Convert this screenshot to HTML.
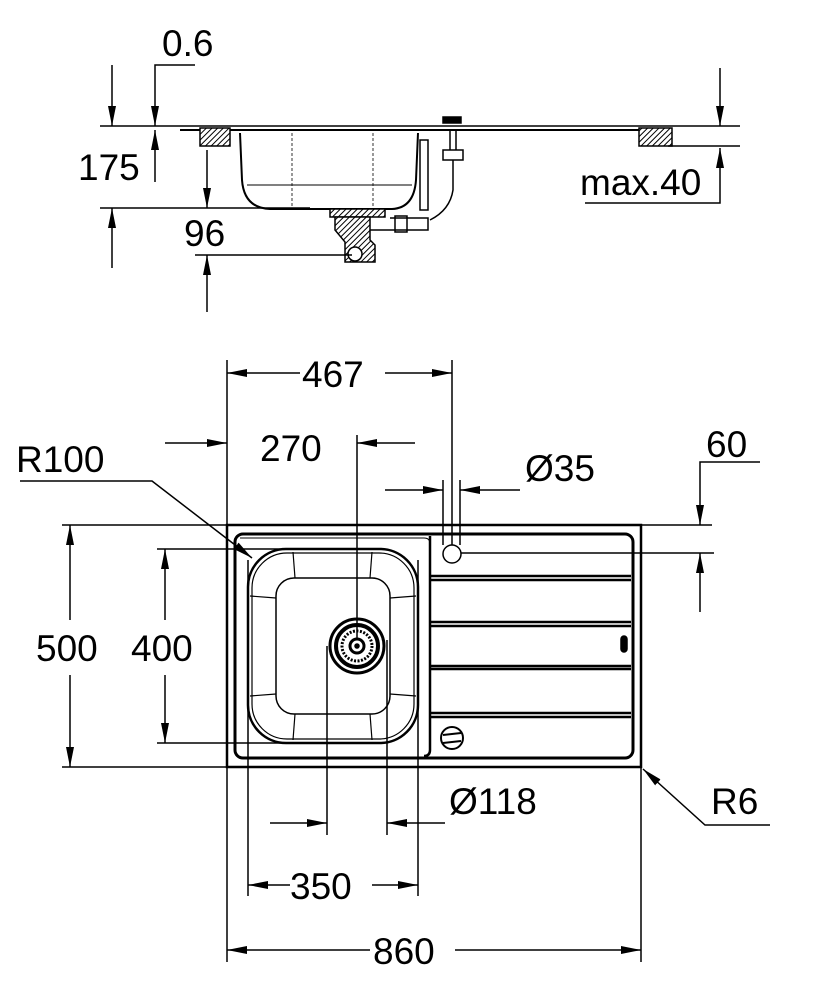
<!DOCTYPE html>
<html><head><meta charset="utf-8"><style>
html,body{margin:0;padding:0;background:#fff}
svg{display:block}
text{font-family:"Liberation Sans",sans-serif;font-size:37px;fill:#000}
</style></head><body>
<svg width="822" height="997" viewBox="0 0 822 997" xmlns="http://www.w3.org/2000/svg">
<defs>
<marker id="a" viewBox="0 0 20 8" refX="20" refY="4" markerWidth="20" markerHeight="8" markerUnits="userSpaceOnUse" orient="auto"><path d="M0,0 L20,4 L0,8 Z" fill="#000"/></marker>
<pattern id="h" width="4" height="4" patternUnits="userSpaceOnUse" patternTransform="rotate(45)"><rect width="4" height="4" fill="#fff"/><line x1="0" y1="0" x2="0" y2="4" stroke="#000" stroke-width="2"/></pattern>
</defs>
<g stroke="#000" stroke-width="1.5" fill="none">
<line x1="100" y1="126" x2="740" y2="126"/>
<line x1="180" y1="130" x2="640" y2="130" stroke-width="2"/>
<rect x="200" y="128" width="30" height="18" fill="url(#h)"/>
<rect x="639" y="128" width="33" height="18" fill="url(#h)"/>
<line x1="668" y1="146" x2="740" y2="146"/>
<line x1="100" y1="208" x2="310" y2="208"/>
<path d="M240,133 L242,180 Q244,208 270,209 L392,209 Q414,208 416,180 L418,133" stroke-width="2"/>
<line x1="247" y1="185" x2="412" y2="185" stroke-width="1"/>
<line x1="292" y1="133" x2="292" y2="209" stroke-width="0.8" stroke-dasharray="3,2"/>
<line x1="373" y1="133" x2="373" y2="209" stroke-width="0.8" stroke-dasharray="3,2"/>
<rect x="330" y="209" width="55" height="8" fill="url(#h)"/>
<path d="M335,217 L335,230 L345,242 L345,262 L375,262 L375,245 L370,240 L370,217 Z" stroke-width="1.5" fill="url(#h)"/>
<circle cx="355" cy="254" r="7" fill="#fff"/>
<path d="M370,230 L428,230 L428,218 L390,218" stroke-width="1.5"/>
<rect x="395" y="216" width="12" height="16"/>
<rect x="443" y="117" width="18" height="6" fill="#000"/>
<line x1="450" y1="130" x2="450" y2="150"/><line x1="456" y1="130" x2="456" y2="150"/>
<rect x="443" y="150" width="20" height="10"/>
<path d="M453,160 L453,190 Q450,210 430,220" />
<rect x="420" y="140" width="8" height="70"/>
<line x1="112" y1="65" x2="112" y2="126" marker-end="url(#a)"/>
<line x1="112" y1="268" x2="112" y2="208" marker-end="url(#a)"/>
<polyline points="195,65 155,65 155,126" marker-end="url(#a)"/>
<line x1="155" y1="182" x2="155" y2="130" marker-end="url(#a)"/>
<line x1="207" y1="150" x2="207" y2="208" marker-end="url(#a)"/>
<line x1="207" y1="312" x2="207" y2="255" marker-end="url(#a)"/>
<line x1="195" y1="255" x2="352" y2="255"/>
<line x1="720" y1="68" x2="720" y2="126" marker-end="url(#a)"/>
<polyline points="585,203 720,203 720,148" marker-end="url(#a)"/>

<rect x="227" y="525" width="414" height="242" stroke-width="2.5"/>
<rect x="235" y="534" width="398" height="224" rx="8" stroke-width="3"/>
<path d="M430,536 L430,750 Q430,756 424,756" stroke-width="2.5"/>
<path d="M240,538 L424,538 Q430,538 430,544" stroke-width="1"/>
<rect x="248" y="549" width="170" height="194" rx="38" stroke-width="2.5"/>
<rect x="252" y="553" width="162" height="186" rx="35" stroke-width="1.2"/>
<rect x="276" y="578" width="114" height="136" rx="18" stroke-width="1.5"/>
<line x1="293" y1="552" x2="295" y2="578" stroke-width="1.2"/><line x1="372" y1="552" x2="370" y2="578" stroke-width="1.2"/>
<line x1="293" y1="740" x2="295" y2="714" stroke-width="1.2"/><line x1="372" y1="740" x2="370" y2="714" stroke-width="1.2"/>
<line x1="250" y1="596" x2="276" y2="598" stroke-width="1.2"/><line x1="250" y1="696" x2="276" y2="694" stroke-width="1.2"/>
<line x1="416" y1="596" x2="390" y2="598" stroke-width="1.2"/><line x1="416" y1="696" x2="390" y2="694" stroke-width="1.2"/>
<circle cx="357" cy="646" r="27" stroke-width="3"/>
<circle cx="357" cy="646" r="21" stroke-width="4"/>
<circle cx="357" cy="646" r="15" stroke-width="3" stroke-dasharray="2,1.5"/>
<circle cx="357" cy="646" r="7" stroke-width="3"/>
<circle cx="357" cy="646" r="2" fill="#000"/>
<g stroke-width="2.5">
<line x1="431" y1="576" x2="631" y2="576"/><line x1="431" y1="580" x2="631" y2="580"/>
<line x1="431" y1="622" x2="631" y2="622"/><line x1="431" y1="626" x2="631" y2="626"/>
<line x1="431" y1="666" x2="631" y2="666"/><line x1="431" y1="669" x2="631" y2="669"/>
<line x1="431" y1="713" x2="631" y2="713"/><line x1="431" y1="717" x2="631" y2="717"/>
</g>
<circle cx="452" cy="554" r="9"/>
<circle cx="452" cy="738" r="11" stroke-width="2"/>
<line x1="443" y1="735" x2="461" y2="733" stroke-width="2"/><line x1="443" y1="743" x2="461" y2="741" stroke-width="2"/>
<rect x="621" y="636" width="6" height="16" rx="3" fill="#000"/>
<line x1="227" y1="360" x2="227" y2="525"/>
<line x1="452" y1="360" x2="452" y2="545"/>
<line x1="300" y1="373" x2="227" y2="373" marker-end="url(#a)"/>
<line x1="385" y1="373" x2="452" y2="373" marker-end="url(#a)"/>
<line x1="165" y1="443" x2="227" y2="443" marker-end="url(#a)"/>
<line x1="415" y1="443" x2="357" y2="443" marker-end="url(#a)"/>
<line x1="357" y1="435" x2="357" y2="640"/>
<line x1="443" y1="480" x2="443" y2="545"/><line x1="460" y1="480" x2="460" y2="545"/>
<line x1="385" y1="490" x2="443" y2="490" marker-end="url(#a)"/>
<line x1="520" y1="490" x2="460" y2="490" marker-end="url(#a)"/>
<polyline points="760,462 700,462 700,525" marker-end="url(#a)"/>
<line x1="700" y1="612" x2="700" y2="553" marker-end="url(#a)"/>
<line x1="641" y1="525" x2="712" y2="525"/>
<line x1="461" y1="553" x2="714" y2="553"/>
<line x1="62" y1="525" x2="227" y2="525"/>
<line x1="62" y1="767" x2="641" y2="767"/>
<line x1="70" y1="620" x2="70" y2="525" marker-end="url(#a)"/>
<line x1="70" y1="675" x2="70" y2="767" marker-end="url(#a)"/>
<line x1="157" y1="549" x2="300" y2="549"/>
<line x1="157" y1="743" x2="300" y2="743"/>
<line x1="165" y1="620" x2="165" y2="549" marker-end="url(#a)"/>
<line x1="165" y1="675" x2="165" y2="743" marker-end="url(#a)"/>
<polyline points="20,481 152,481 252,558" marker-end="url(#a)"/>
<line x1="327" y1="646" x2="327" y2="835"/>
<line x1="387" y1="640" x2="387" y2="835"/>
<line x1="270" y1="823" x2="327" y2="823" marker-end="url(#a)"/>
<line x1="445" y1="823" x2="387" y2="823" marker-end="url(#a)"/>
<line x1="248" y1="560" x2="248" y2="896"/>
<line x1="418" y1="560" x2="418" y2="896"/>
<line x1="290" y1="885" x2="248" y2="885" marker-end="url(#a)"/>
<line x1="372" y1="885" x2="418" y2="885" marker-end="url(#a)"/>
<line x1="227" y1="767" x2="227" y2="962"/>
<line x1="641" y1="767" x2="641" y2="962"/>
<line x1="370" y1="950" x2="227" y2="950" marker-end="url(#a)"/>
<line x1="455" y1="950" x2="641" y2="950" marker-end="url(#a)"/>
<polyline points="770,825 705,825 643,769" marker-end="url(#a)"/>
</g>
<text x="162" y="56">0.6</text>
<text x="78" y="180">175</text>
<text x="184" y="246">96</text>
<text x="580" y="195">max.40</text>
<text x="302" y="387">467</text>
<text x="16" y="472">R100</text>
<text x="260" y="461">270</text>
<text x="525" y="481">Ø35</text>
<text x="706" y="457">60</text>
<text x="36" y="661">500</text>
<text x="131" y="661">400</text>
<text x="449" y="814">Ø118</text>
<text x="711" y="814">R6</text>
<text x="290" y="899">350</text>
<text x="373" y="964">860</text>
</svg>
</body></html>
